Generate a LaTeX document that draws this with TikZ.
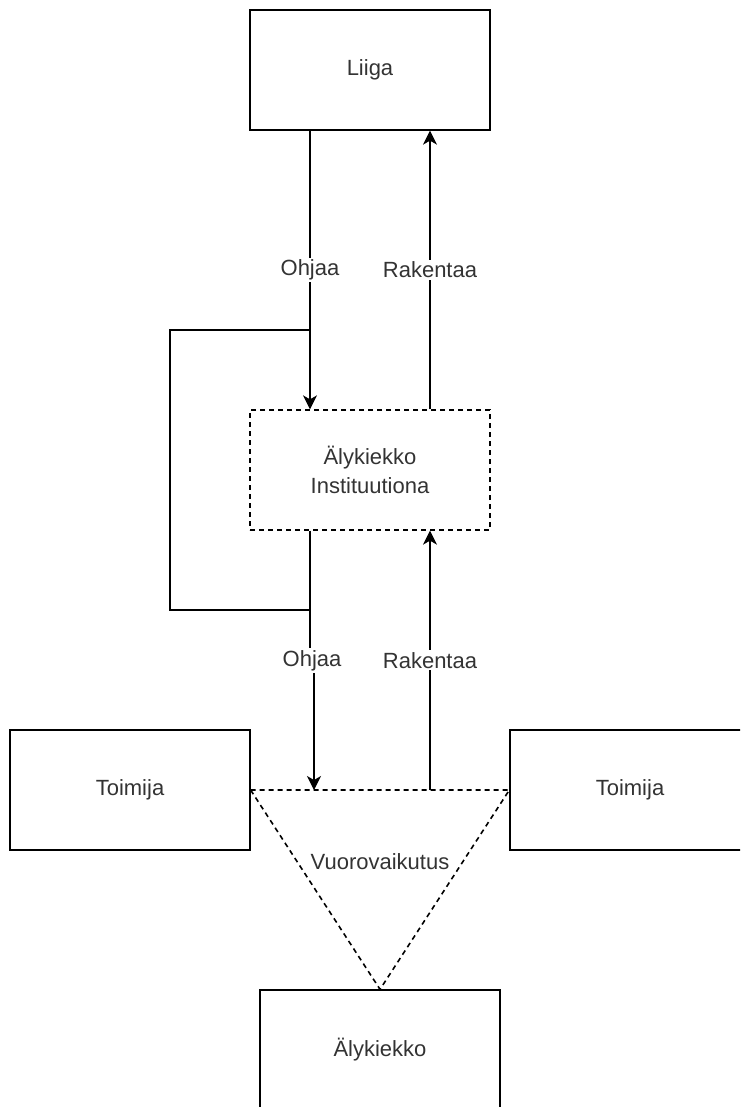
\documentclass[tikz,border=0pt]{standalone}
\usepackage{fontspec}
\setmainfont{Liberation Sans}
\usetikzlibrary{arrows.meta}
\definecolor{ink}{RGB}{51,51,51}
\begin{document}
\begin{tikzpicture}[x=1pt,y=-1pt,
  box/.style={draw=black, line width=1.3pt, minimum width=240pt, minimum height=120pt,
    inner sep=0pt, text=ink, font=\fontsize{22}{29}\selectfont, align=center},
  dashedbox/.style={box, dash pattern=on 5pt off 4pt},
  conn/.style={draw=black, line width=1.3pt},
  arr/.style={conn, -{Stealth[length=14pt,width=14pt,inset=4pt]}},
  lbl/.style={fill=white, text=ink, font=\fontsize{22}{26}\selectfont, inner sep=2pt},
  trilabel/.style={text=ink, font=\fontsize{22}{26}\selectfont, inner sep=0pt}]
\useasboundingbox (0,0) rectangle (740,1107);
\clip (0,0) rectangle (740,1107);

% boxes
\node[box] (liiga) at (370,70) {Liiga};
\node[dashedbox] (inst) at (370,470) {Älykiekko\\Instituutiona};
\node[box] (toimL) at (130,790) {Toimija};
\node[box] (toimR) at (630,790) {Toimija};
\node[box] (alyk) at (380,1050) {Älykiekko};

% interaction triangle between the actors and the puck
\draw[conn, line width=1.6pt, dash pattern=on 5pt off 4pt]
  (toimL.east) -- (toimR.west) -- (alyk.north) -- cycle;
\node[trilabel] (vuoro) at (380,862) {Vuorovaikutus};

% points on the triangle's top edge
\coordinate (hit) at (314,790);
\coordinate (rk) at (430,790);

% league <-> institution
\draw[arr] ([xshift=-60pt]liiga.south) -- ([xshift=-60pt]inst.north)
  node[lbl, midway] {Ohjaa};
\draw[arr] ([xshift=60pt]inst.north) -- ([xshift=60pt]liiga.south)
  node[lbl, midway] {Rakentaa};

% institution <-> interaction
\draw[arr] ([xshift=-60pt]inst.south) -- ++(0,130) -- ++(4,0)
  node[lbl, midway] {Ohjaa} -- (hit);
\draw[arr] (rk) -- ([xshift=60pt]inst.south)
  node[lbl, midway] {Rakentaa};

% feedback loop around the institution
\coordinate (lt) at (310,330);
\coordinate (lb) at (310,610);
\draw[conn] (lb) -- ++(-140,0) |- (lt);
\end{tikzpicture}
\end{document}
